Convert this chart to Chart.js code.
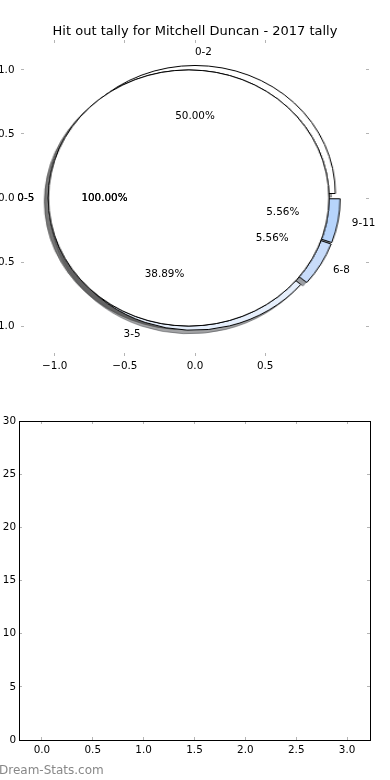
<!DOCTYPE html>
<html><head><meta charset="utf-8">
<script src="https://cdn.jsdelivr.net/npm/chart.js@4.4.1/dist/chart.umd.min.js"></script>
<style>
html,body{margin:0;padding:0;background:#fff;}
#wrap{position:relative;width:390px;height:780px;overflow:hidden;background:#fff;}
canvas{position:absolute;display:block;}
#top{left:0;top:0;width:390px;height:390px;}
#bottom{left:0;top:390px;width:390px;height:390px;}
#mark{position:absolute;left:-1px;top:763px;font-family:"DejaVu Sans",sans-serif;font-size:12px;line-height:14px;color:#888;white-space:nowrap;}
</style></head><body>
<div id="wrap">
<canvas id="pie"></canvas>
<canvas id="top" width="390" height="390"></canvas>
<canvas id="bottom" width="390" height="390"></canvas>
<div id="mark">Dream-Stats.com</div>
</div>
<script>
// ---- data ----
const TITLE = 'Hit out tally for Mitchell Duncan - 2017 tally';
const tallyBins3 = ['0-2', '3-5', '6-8', '9-11'];
const tallyCounts3 = [9, 7, 1, 1];
const tallyBins6 = ['0-5'];
const tallyCounts6 = [18];
const pieXTicks = [-1.0, -0.5, 0.0, 0.5];
const pieYTicks = [-1.0, -0.5, 0.0, 0.5, 1.0];
const barXTicks = [0, 0.5, 1, 1.5, 2, 2.5, 3];
const barYTicks = [0, 5, 10, 15, 20, 25, 30];

// ---- style ----
const FONT = '"DejaVu Sans", sans-serif';
const SMALL = 10.4;
const TICK_GRAY = '#b4b4b4';
const PIE3_COLORS = ['#ffffff', '#e6effc', '#c8dcfa', '#b7d4fb'];
const PIE6_COLORS = ['#ffffff'];
const LABEL_DIST = 1.1, PCT_DIST = 0.6, SHADOW = 0.02 * 100 / 72;
const pieDefs = [
  {labels: tallyBins3, counts: tallyCounts3, colors: PIE3_COLORS, explode: 0.035, layers: 1},
  {labels: tallyBins6, counts: tallyCounts6, colors: PIE6_COLORS, explode: 0.045, layers: 2}
];

function fmt(v) { const s = (Math.abs(v) < 1e-9 ? 0 : v).toFixed(1); return s.replace('-', '\u2212'); }
function setTicks(vals) { return s => { s.ticks = vals.map(v => ({value: v})); }; }
function fixW(w) { return s => { s.width = w; }; }
function fixH(h) { return s => { s.height = h; }; }
function tickGrid() { return {display: true, drawOnChartArea: false, drawTicks: true, tickLength: -3, color: TICK_GRAY, lineWidth: 1}; }
function shadowOf(hex) {
  const n = parseInt(hex.slice(1), 16);
  const r = (n >> 16) & 255, g = (n >> 8) & 255, b = n & 255;
  return `rgba(${Math.round(r * 0.3)},${Math.round(g * 0.3)},${Math.round(b * 0.3)},0.5)`;
}
function wedgeTexts(def) {
  const total = def.counts.reduce((a, b) => a + b, 0);
  let t1 = 0; const out = [];
  def.counts.forEach((c, i) => {
    const t2 = t1 + c / total;
    const tm = Math.PI * (t1 + t2);
    const ex = def.explode * Math.cos(tm), ey = def.explode * Math.sin(tm);
    const lx = ex + LABEL_DIST * Math.cos(tm), ly = ey + LABEL_DIST * Math.sin(tm);
    out.push({text: def.labels[i], x: lx, y: ly, align: lx > 0 ? 'left' : 'right'});
    out.push({text: (100 * c / total).toFixed(2) + '%', x: ex + PCT_DIST * Math.cos(tm), y: ey + PCT_DIST * Math.sin(tm), align: 'center'});
    t1 = t2;
  });
  return out;
}

const pieTextPlugin = {
  id: 'pieTexts',
  afterDraw(chart) {
    const ctx = chart.ctx, sx = chart.scales.x, sy = chart.scales.y;
    ctx.save();
    ctx.font = SMALL + 'px ' + FONT;
    ctx.fillStyle = '#000';
    ctx.textBaseline = 'middle';
    pieDefs.forEach(def => {
      const items = wedgeTexts(def);
      for (let k = 0; k < def.layers; k++) {
        items.forEach(t => {
          ctx.textAlign = t.align;
          ctx.fillText(t.text, sx.getPixelForValue(t.x), sy.getPixelForValue(t.y));
        });
      }
    });
    ctx.restore();
  }
};

const topChart = new Chart(document.getElementById('top'), {
  type: 'scatter',
  data: {datasets: []},
  options: {
    responsive: false, animation: false, devicePixelRatio: 1, events: [],
    layout: {padding: 0},
    plugins: {
      legend: {display: false}, tooltip: {enabled: false},
      title: {display: true, text: TITLE, color: '#000', font: {family: FONT, size: 13, weight: 'normal'}, padding: {top: 24.2, bottom: 0}}
    },
    scales: {
      x: {type: 'linear', position: 'bottom', min: -1.24, max: 1.24, afterBuildTicks: setTicks(pieXTicks), afterFit: fixH(34),
          border: {display: false}, grid: tickGrid(),
          ticks: {color: '#000', font: {family: FONT, size: SMALL}, padding: 7, maxRotation: 0, autoSkip: false, callback: v => fmt(v)}},
      x2: {type: 'linear', axis: 'x', position: 'top', min: -1.24, max: 1.24, afterBuildTicks: setTicks(pieXTicks), afterFit: fixH(0.2),
          border: {display: false}, grid: tickGrid(), ticks: {display: false}},
      y: {type: 'linear', position: 'left', min: -1.234, max: 1.234, afterBuildTicks: setTicks(pieYTicks), afterFit: fixW(21),
          border: {display: false}, grid: tickGrid(),
          ticks: {color: '#000', font: {family: FONT, size: SMALL}, padding: 9.5, autoSkip: false, callback: v => fmt(v)}},
      y2: {type: 'linear', axis: 'y', position: 'right', min: -1.234, max: 1.234, afterBuildTicks: setTicks(pieYTicks), afterFit: fixW(21),
          border: {display: false}, grid: tickGrid(), ticks: {display: false}}
    }
  },
  plugins: [pieTextPlugin]
});

// ---- pie (drawn under the axes canvas, stretched to the axes' data aspect) ----
const axX = topChart.scales.x, axY = topChart.scales.y;
const cxPx = axX.getPixelForValue(0), cyPx = axY.getPixelForValue(0);
const rxPx = axX.getPixelForValue(1) - cxPx, ryPx = cyPx - axY.getPixelForValue(1);
const S = 2 * Math.ceil(ryPx * 1.3);
const pc = document.getElementById('pie');
pc.width = S; pc.height = S;
Object.assign(pc.style, {left: (cxPx - S / 2) + 'px', top: (cyPx - S / 2) + 'px', width: S + 'px', height: S + 'px',
  transform: 'scaleX(' + (rxPx / ryPx) + ')', transformOrigin: '50% 50%'});

const drawOrder = [];
pieDefs.forEach(def => { for (let k = 0; k < def.layers; k++) drawOrder.push(def); });
const pieDatasets = drawOrder.map(def => ({
  data: def.counts.slice().reverse(),
  backgroundColor: def.colors.slice().reverse(),
  shadowColors: def.colors.slice().reverse().map(shadowOf),
  borderColor: '#000',
  borderWidth: def.counts.length > 1 ? 1 : 0,
  strokeFull: def.counts.length === 1,
  explode: def.explode
})).reverse();

const pieGeomPlugin = {
  id: 'pieGeom',
  afterUpdate(chart) {
    const ca = chart.chartArea, cx = (ca.left + ca.right) / 2, cy = (ca.top + ca.bottom) / 2;
    chart.data.datasets.forEach((ds, i) => {
      chart.getDatasetMeta(i).data.forEach(arc => {
        const mid = (arc.startAngle + arc.endAngle) / 2;
        arc.x = cx + Math.cos(mid) * ds.explode * ryPx;
        arc.y = cy + Math.sin(mid) * ds.explode * ryPx;
        arc.outerRadius = ryPx;
        arc.innerRadius = 0;
      });
    });
  },
  beforeDatasetsDraw(chart) {
    const ctx = chart.ctx;
    const metas = chart.getSortedVisibleDatasetMetas().slice().reverse();
    metas.forEach(meta => {
      const ds = chart.data.datasets[meta.index];
      meta.data.forEach((arc, j) => {
        const orig = arc.options;
        arc.options = Object.assign({}, orig, {backgroundColor: ds.shadowColors[j], borderColor: ds.shadowColors[j], borderWidth: 1});
        ctx.save();
        ctx.translate(-SHADOW * ryPx, SHADOW * ryPx);
        arc.draw(ctx);
        ctx.restore();
        arc.options = orig;
      });
    });
  },
  afterDatasetDraw(chart, args) {
    const ds = chart.data.datasets[args.index];
    if (!ds.strokeFull) return;
    const ctx = chart.ctx;
    ctx.save();
    ctx.strokeStyle = ds.borderColor;
    ctx.lineWidth = 1;
    args.meta.data.forEach(arc => {
      ctx.beginPath();
      ctx.arc(arc.x, arc.y, arc.outerRadius, 0, Math.PI * 2);
      ctx.stroke();
    });
    ctx.restore();
  }
};

new Chart(pc, {
  type: 'pie',
  data: {labels: tallyBins3, datasets: pieDatasets},
  options: {
    responsive: false, animation: false, devicePixelRatio: 1, events: [],
    layout: {padding: 0}, rotation: 90, radius: ryPx,
    plugins: {legend: {display: false}, tooltip: {enabled: false}, title: {display: false}}
  },
  plugins: [pieGeomPlugin]
});

// ---- bottom (empty) axes ----
new Chart(document.getElementById('bottom'), {
  type: 'scatter',
  data: {datasets: []},
  options: {
    responsive: false, animation: false, devicePixelRatio: 1, events: [],
    layout: {padding: 0},
    plugins: {legend: {display: false}, tooltip: {enabled: false}},
    scales: {
      x: {type: 'linear', position: 'bottom', min: -0.225, max: 3.225, afterBuildTicks: setTicks(barXTicks), afterFit: fixH(40),
          border: {display: true, color: '#000', width: 1}, grid: tickGrid(),
          ticks: {color: '#000', font: {family: FONT, size: SMALL}, padding: 7, maxRotation: 0, autoSkip: false, callback: v => v.toFixed(1)}},
      x2: {type: 'linear', axis: 'x', position: 'top', min: -0.225, max: 3.225, afterBuildTicks: setTicks(barXTicks), afterFit: fixH(31),
          border: {display: true, color: '#000', width: 1}, grid: tickGrid(), ticks: {display: false}},
      y: {type: 'linear', position: 'left', min: 0, max: 30, afterBuildTicks: setTicks(barYTicks), afterFit: fixW(19),
          border: {display: true, color: '#000', width: 1}, grid: tickGrid(),
          ticks: {color: '#000', font: {family: FONT, size: SMALL}, padding: 6, autoSkip: false, callback: v => String(v)}},
      y2: {type: 'linear', axis: 'y', position: 'right', min: 0, max: 30, afterBuildTicks: setTicks(barYTicks), afterFit: fixW(20),
          border: {display: true, color: '#000', width: 1}, grid: tickGrid(), ticks: {display: false}}
    }
  }
});
</script>
</body></html>
